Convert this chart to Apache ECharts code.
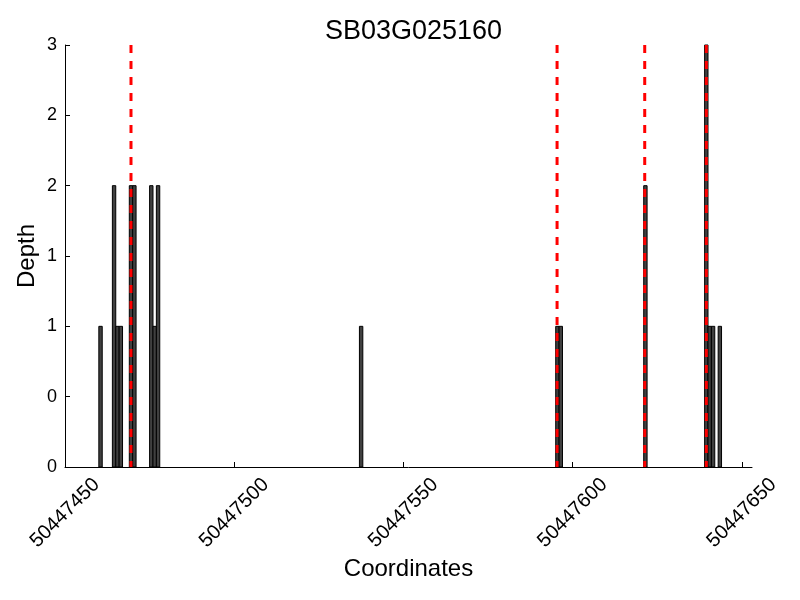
<!DOCTYPE html>
<html>
<head>
<meta charset="utf-8">
<script src="https://cdn.jsdelivr.net/npm/echarts@6/dist/echarts.min.js"></script>
<style>html,body{margin:0;padding:0;background:#fff}#c{width:800px;height:600px}</style>
</head>
<body>
<div id="c"></div>
<script>
// Bar left coordinates (each bar spans 1 bp) and depths
const barStarts = [50447460, 50447464, 50447465, 50447466, 50447469, 50447470, 50447475, 50447476, 50447477, 50447537, 50447595, 50447596, 50447621, 50447639, 50447640, 50447641, 50447643];
const barDepths = [1, 2, 1, 1, 2, 2, 2, 1, 2, 1, 1, 1, 2, 3, 1, 1, 1];
// Red dashed marker positions
const markerPositions = [50447469.5, 50447595.4, 50447621.3, 50447639.5];
// Axis ticks
const xTicks = [50447450, 50447500, 50447550, 50447600, 50447650];
const yTicks = [0, 0.5, 1, 1.5, 2, 2.5, 3];
const xMin = 50447450, xMax = 50447653;

const FONT = "'Liberation Sans', Arial, sans-serif";
const chart = echarts.init(document.getElementById('c'), null, {renderer: 'canvas'});
const barData = barStarts.map((s, i) => [s, barDepths[i]]);

chart.setOption({
  animation: false,
  backgroundColor: '#fff',
  title: {
    text: 'SB03G025160',
    left: 408.5, top: 13, textAlign: 'center',
    textStyle: {fontFamily: FONT, fontSize: 27, fontWeight: 'normal', color: '#000'}
  },
  grid: {left: 65, right: 48, top: 45, bottom: 133, containLabel: false},
  xAxis: {
    type: 'value', min: xMin, max: xMax, interval: 50,
    name: 'Coordinates', nameLocation: 'middle', nameGap: 90, nameMoveOverlap: false,
    nameTextStyle: {fontFamily: FONT, fontSize: 24, color: '#000'},
    axisLine: {show: true, lineStyle: {color: '#000', width: 1}},
    axisTick: {show: true, inside: true, length: 5, lineStyle: {color: '#000'}, customValues: xTicks},
    axisLabel: {
      customValues: xTicks, rotate: 45, align: 'center', verticalAlign: 'middle', margin: 46,
      fontFamily: FONT, fontSize: 20, color: '#000',
      formatter: v => String(v)
    },
    splitLine: {show: false}
  },
  yAxis: {
    type: 'value', min: 0, max: 3, interval: 0.5,
    name: 'Depth', nameLocation: 'middle', nameGap: 26, nameMoveOverlap: false,
    nameTextStyle: {fontFamily: FONT, fontSize: 24, color: '#000'},
    axisLine: {show: true, lineStyle: {color: '#000', width: 1}},
    axisTick: {show: true, inside: true, length: 5, lineStyle: {color: '#000'}, customValues: yTicks},
    axisLabel: {
      customValues: yTicks, margin: 8, fontFamily: FONT, fontSize: 18, color: '#000',
      formatter: v => String(Math.floor(v))
    },
    splitLine: {show: false}
  },
  series: [
    {
      type: 'custom',
      data: barData,
      renderItem: function (params, api) {
        const p1 = api.coord([api.value(0), api.value(1)]);
        const p2 = api.coord([api.value(0) + 1, 0]);
        return {
          type: 'rect',
          shape: {x: p1[0], y: p1[1], width: p2[0] - p1[0], height: p2[1] - p1[1]},
          style: {fill: '#404040', stroke: '#000', lineWidth: 1}
        };
      },
      z: 2
    },
    {
      type: 'custom',
      data: markerPositions.map(x => [x]),
      renderItem: function (params, api) {
        const a = api.coord([api.value(0), 3]);
        const b = api.coord([api.value(0), 0]);
        return {
          type: 'line',
          shape: {x1: a[0], y1: a[1], x2: b[0], y2: b[1]},
          style: {stroke: '#ff0000', lineWidth: 3, lineDash: [8, 8]}
        };
      },
      z: 3
    }
  ]
});
</script>
</body>
</html>
